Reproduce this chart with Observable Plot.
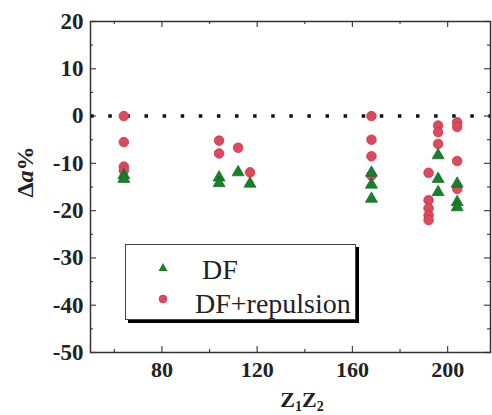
<!DOCTYPE html>
<html>
<head>
<meta charset="utf-8">
<script src="https://cdn.jsdelivr.net/npm/d3@7"></script>
<script src="https://cdn.jsdelivr.net/npm/@observablehq/plot@0.6"></script>
<style>
  html, body { margin: 0; padding: 0; background: #fff; }
  #wrap { position: relative; width: 492px; height: 415px; overflow: hidden; }
  #legend {
    position: absolute; left: 125px; top: 244px; width: 229px; height: 74px;
    border: 1px solid #444; box-shadow: 3px 3px 0 #000; background: #fff;
    font-family: "Liberation Serif", "DejaVu Serif", serif; font-size: 28px; line-height: 28px; color: #222;
  }
  #legend .row { position: absolute; left: 0; white-space: nowrap; }
  #legend svg { position: absolute; }
</style>
</head>
<body>
<div id="wrap"></div>
<script>
// ---- data ----
const dfX = [64, 64, 104, 104, 112, 117, 168, 168, 168, 196, 196, 196, 204, 204, 204];
const dfY = [-12.5, -13.3, -13, -14.2, -11.9, -14.3, -12, -14.5, -17.5, -8.3, -13.3, -16.1, -14.3, -18.2, -19.3];
const repX = [64, 64, 64, 64, 104, 104, 112, 117, 168, 168, 168, 168, 192, 192, 192, 192, 192, 196, 196, 196, 204, 204, 204, 204];
const repY = [0, -5.5, -10.7, -11.5, -5.2, -7.9, -6.7, -11.9, 0, -5, -8.5, -12.6, -12, -17.8, -19.5, -21, -22, -2, -3.4, -5.9, -1.3, -2.3, -9.5, -15.4];
const xMajor = [80, 120, 160, 200];
const xMinor = [60, 100, 140, 180];
const yMajor = [20, 10, 0, -10, -20, -30, -40, -50];
const yMinor = [15, 5, -5, -15, -25, -35, -45];
const seriesNames = ["DF", "DF+repulsion"];

const df = dfX.map((x, i) => ({x, y: dfY[i]}));
const rep = repX.map((x, i) => ({x, y: repY[i]}));

const green = "#17812a";
const red = "#dc4a5c";
const W = 492, H = 415, mL = 90, mR = 2, mT = 21, mB = 63;
const ph = H - mT - mB, pw = W - mL - mR;
const font = "Liberation Serif, DejaVu Serif, serif";

const chart = Plot.plot({
  width: W, height: H,
  marginLeft: mL, marginRight: mR, marginTop: mT, marginBottom: mB,
  style: {fontFamily: font, fontSize: "22px", fontWeight: "bold", color: "#222", background: "#fff"},
  x: {domain: [50, 218], label: null},
  y: {domain: [-50, 20], label: null},
  marks: [
    Plot.axisX(xMajor, {tickSize: 0, tickPadding: 9, fontSize: 22, fontWeight: "bold", tickFormat: d => String(d)}),
    Plot.axisY(yMajor, {tickSize: 0, tickPadding: 7, fontSize: 23, fontWeight: "bold", tickFormat: d => String(d)}),
    // inward ticks
    Plot.tickX(xMajor, {x: d => d, insetTop: ph - 6, stroke: "#444", strokeWidth: 1.2}),
    Plot.tickX(xMinor, {x: d => d, insetTop: ph - 3, stroke: "#444", strokeWidth: 1.2}),
    Plot.tickX(xMajor, {x: d => d, insetBottom: ph - 6, stroke: "#444", strokeWidth: 1.2}),
    Plot.tickX(xMinor, {x: d => d, insetBottom: ph - 3, stroke: "#444", strokeWidth: 1.2}),
    Plot.tickY(yMajor, {y: d => d, insetRight: pw - 6, stroke: "#444", strokeWidth: 1.2}),
    Plot.tickY(yMinor, {y: d => d, insetRight: pw - 3, stroke: "#444", strokeWidth: 1.2}),
    Plot.tickY(yMajor, {y: d => d, insetLeft: pw - 6, stroke: "#444", strokeWidth: 1.2}),
    Plot.tickY(yMinor, {y: d => d, insetLeft: pw - 3, stroke: "#444", strokeWidth: 1.2}),
    Plot.ruleY([0], {stroke: "#111", strokeWidth: 3.5, strokeDasharray: "3.5,14.6", strokeDashoffset: -18.3}),
    Plot.dot(rep, {x: "x", y: "y", r: 4.8, fill: red, stroke: "#c23a4c", strokeWidth: 0.8}),
    Plot.dot(df, {x: "x", y: "y", symbol: "triangle", r: 4.5, fill: green, stroke: "#0f5e1c", strokeWidth: 0.6}),
    Plot.frame({stroke: "#333", strokeWidth: 1.5})
  ]
});

const wrap = document.getElementById("wrap");
wrap.appendChild(chart);

// axis titles
const svg = d3.select(chart);
const xt = svg.append("text")
  .attr("x", 302).attr("y", 407)
  .attr("text-anchor", "middle")
  .attr("font-family", font).attr("font-weight", "bold").attr("font-size", 22).attr("fill", "#222");
xt.append("tspan").text("Z");
xt.append("tspan").attr("font-size", 14).attr("dy", 4).text("1");
xt.append("tspan").attr("dy", -4).text("Z");
xt.append("tspan").attr("font-size", 14).attr("dy", 4).text("2");

const yt = svg.append("text")
  .attr("transform", "translate(33,172) rotate(-90)")
  .attr("text-anchor", "middle")
  .attr("font-family", font).attr("font-weight", "bold").attr("font-size", 24).attr("fill", "#222");
yt.append("tspan").text("Δ");
yt.append("tspan").attr("font-style", "italic").text("a");
yt.append("tspan").text("%");

// legend
const legend = document.createElement("div");
legend.id = "legend";
const ns = "http://www.w3.org/2000/svg";
const mk = document.createElementNS(ns, "svg");
mk.setAttribute("width", 20); mk.setAttribute("height", 64);
mk.style.left = "27px"; mk.style.top = "12px";
mk.innerHTML = `<path d="M10,6 L14.5,14 L5.5,14 Z" fill="${green}"/><circle cx="10" cy="42" r="4" fill="${red}" stroke="#c23a4c" stroke-width="0.6"/>`;
legend.appendChild(mk);
const r1 = document.createElement("div"); r1.className = "row"; r1.style.left = "76px"; r1.style.top = "11px"; r1.textContent = seriesNames[0];
const r2 = document.createElement("div"); r2.className = "row"; r2.style.left = "69px"; r2.style.top = "45px"; r2.textContent = seriesNames[1];
legend.appendChild(r1); legend.appendChild(r2);
wrap.appendChild(legend);
</script>
</body>
</html>
